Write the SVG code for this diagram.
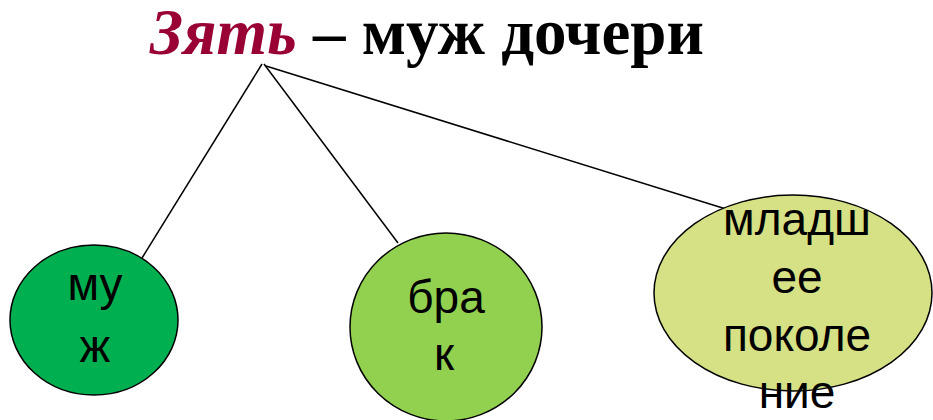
<svg xmlns="http://www.w3.org/2000/svg" width="933" height="420" viewBox="0 0 933 420">
<style>
.title{font-family:"Liberation Serif","Times New Roman",serif;font-weight:bold;font-size:65px}
.lbl{font-family:"Liberation Sans",Arial,sans-serif;font-size:46px;fill:#000;text-anchor:middle}
.node{stroke:#000;stroke-width:1.5}
.conn{stroke:#000;stroke-width:1.5;fill:none}
</style>
<rect width="933" height="420" fill="#fff"/>
<g id="title">
<text x="150" y="54" class="title"><tspan fill="#990033" font-style="italic">Зять</tspan><tspan fill="#000"> – муж дочери</tspan></text>
</g>
<g id="connectors">
<line class="conn" x1="262" y1="64" x2="142" y2="258"/>
<line class="conn" x1="264" y1="64" x2="398" y2="243"/>
<line class="conn" x1="266" y1="66" x2="742" y2="214"/>
</g>
<g id="node-muzh">
<ellipse class="node" cx="94" cy="320" rx="84" ry="75" fill="#00B050"/>
<text class="lbl" x="95" y="300">му</text>
<text class="lbl" x="95" y="362">ж</text>
</g>
<g id="node-brak">
<ellipse class="node" cx="446" cy="327" rx="96" ry="94" fill="#92D050"/>
<text class="lbl" x="446" y="313">бра</text>
<text class="lbl" x="444" y="370">к</text>
</g>
<g id="node-mladshee">
<ellipse class="node" cx="793" cy="293" rx="139" ry="98" fill="#D6E084"/>
<text class="lbl" x="797" y="235">младш</text>
<text class="lbl" x="797" y="293">ее</text>
<text class="lbl" x="797" y="351">поколе</text>
<text class="lbl" x="797" y="408">ние</text>
</g>
</svg>
